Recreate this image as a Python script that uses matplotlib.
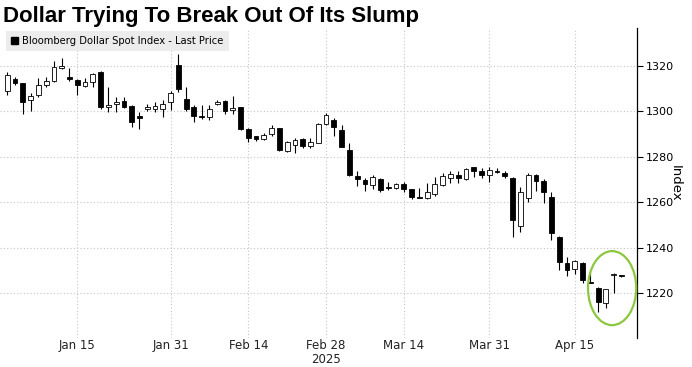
import numpy as np
import pandas as pd
import matplotlib
matplotlib.use("Agg")
import matplotlib.pyplot as plt
from matplotlib.patches import Rectangle, Ellipse, Patch

# Bloomberg Dollar Spot Index, daily candles
fechas = pd.bdate_range("2025-01-02", "2025-04-23")

apertura = [1309, 1314, 1312.3, 1305, 1307, 1311.6, 1313.3, 1319, 1315, 1313.8,
            1311.1, 1313, 1317.4, 1301.6, 1303.3, 1304.5, 1302.3, 1297.9, 1300.9, 1300.9,
            1301, 1304.2, 1320.4, 1305.4, 1301.6, 1297.8, 1297.4, 1303.1, 1304.5, 1300.4,
            1301.8, 1292.2, 1289.1, 1287.8, 1289.9, 1292.5, 1282.5, 1285.2, 1287.8, 1284.7,
            1286.2, 1294.3, 1296.2, 1291.8, 1283, 1271.7, 1269.8, 1267.6, 1270.2, 1266.8,
            1266.2, 1267.9, 1265.7, 1262.5, 1261.8, 1263.5, 1267.6, 1270.8, 1272, 1270.1,
            1275.4, 1273.5, 1272, 1273.9, 1272.7, 1270.5, 1249.6, 1261.8, 1272, 1269.5,
            1262.2, 1244.9, 1233.5, 1230.5, 1233.5, 1224.9, 1222.5, 1215.6, 1228.2, 1227.8]
maximo = [1317, 1315, 1312.5, 1308, 1314.5, 1315.2, 1322.2, 1323.3, 1319, 1314.2,
          1314.5, 1316.8, 1317.6, 1310.5, 1306.4, 1306.4, 1302.8, 1299.8, 1303.1, 1304.2,
          1305, 1308.9, 1325.3, 1310.5, 1302.5, 1302.5, 1302.8, 1305, 1305, 1306.7,
          1302, 1292.5, 1289.3, 1290.3, 1293.7, 1292.8, 1287, 1288.1, 1288.4, 1288.1,
          1294.6, 1299.4, 1296.9, 1293.7, 1285.9, 1273.5, 1270.6, 1272, 1270.6, 1269,
          1268.6, 1269, 1266, 1266.2, 1268.4, 1271.3, 1272.8, 1273.5, 1273.5, 1274.9,
          1275.6, 1274.9, 1275.6, 1274.9, 1273.9, 1271, 1266.9, 1272.8, 1272.3, 1270.1,
          1264.4, 1245.2, 1235.8, 1234.6, 1233.9, 1229.5, 1222.7, 1222, 1228.8, 1228.1]
minimo = [1307, 1311.5, 1298.7, 1300, 1306.4, 1310.5, 1313, 1318.5, 1313.3, 1306.9,
          1310.5, 1310.8, 1301, 1299.8, 1299.8, 1301.3, 1293.2, 1292.2, 1300.1, 1299.8,
          1297.6, 1300.6, 1308.6, 1300.1, 1295.2, 1296.5, 1295.9, 1302.8, 1298.8, 1298.7,
          1291.5, 1286.4, 1287, 1287.5, 1289.3, 1282.7, 1282, 1281.5, 1283.7, 1283.7,
          1285.9, 1294, 1289.1, 1284.2, 1271.6, 1267.2, 1265, 1265.7, 1264.7, 1265.4,
          1265.8, 1264.7, 1261.5, 1261.7, 1261.5, 1262.8, 1267.3, 1268.4, 1268.4, 1269.8,
          1271.3, 1270.5, 1269, 1272.7, 1270.5, 1244.9, 1247.1, 1260.3, 1265.1, 1259.6,
          1243.4, 1230.2, 1227.6, 1228.5, 1224.4, 1224.5, 1211.9, 1213.4, 1220, 1227.3]
cierre = [1316, 1312.3, 1304.2, 1306.7, 1311.3, 1313.3, 1319.2, 1320, 1314.3, 1311.6,
          1312.8, 1316.4, 1301.8, 1302.8, 1304, 1302, 1295.4, 1296.9, 1301.8, 1302.3,
          1303.1, 1307.9, 1309.7, 1300.9, 1297.9, 1297.4, 1300.9, 1303.8, 1300.1, 1301.3,
          1292.1, 1288.4, 1287.7, 1289.6, 1292.5, 1283, 1286.4, 1287.4, 1284.7, 1286.4,
          1294.4, 1298.1, 1293, 1284.4, 1272, 1270.1, 1268, 1271, 1265.4, 1266.4,
          1267.9, 1265.7, 1262.5, 1261.9, 1264.7, 1267.9, 1271.6, 1272.3, 1270.5, 1274.5,
          1273.5, 1272, 1274.2, 1273.3, 1271.7, 1252.2, 1264.7, 1272, 1269.5, 1264.7,
          1246.4, 1233.9, 1230.2, 1234.3, 1225.8, 1224.6, 1216.3, 1221.8, 1228.6, 1227.6]

etiquetas_x = ["Jan 15", "Jan 31", "Feb 14", "Feb 28\n2025", "Mar 14", "Mar 31", "Apr 15"]
fechas_ticks = ["2025-01-15", "2025-01-31", "2025-02-14", "2025-02-28",
                "2025-03-14", "2025-03-31", "2025-04-15"]
ticks_y = [1220, 1240, 1260, 1280, 1300, 1320]

plt.rcParams['font.family'] = ['DejaVu Sans']

fig = plt.figure(figsize=(6.92, 3.67), dpi=100)
ax = fig.add_axes([0.0, 1 - 338 / 367, 637 / 692, (338 - 28) / 367])

# Velas
ancho = 0.62
for i in range(len(fechas)):
    o, h, l, c = apertura[i], maximo[i], minimo[i], cierre[i]
    sube = c >= o
    ax.vlines(i, l, h, color='black', linewidth=0.8, zorder=2)
    cuerpo = max(abs(c - o), 0.25)
    ax.add_patch(Rectangle((i - ancho / 2, min(o, c)), ancho, cuerpo,
                           facecolor='white' if sube else 'black',
                           edgecolor='black', linewidth=0.6, zorder=3))

# Ejes
pos_ticks = [fechas.get_loc(pd.Timestamp(f)) for f in fechas_ticks]
ax.set_xticks(pos_ticks)
ax.set_xticklabels(etiquetas_x, fontsize=8.5, color='#222222', linespacing=1.05)
ax.set_xlim(-0.94, 81.0)
ax.set_ylim(1200.4, 1336.5)
ax.set_yticks(ticks_y)

ax.yaxis.tick_right()
ax.yaxis.set_label_position('right')
ax.tick_params(axis='y', direction='out', length=4, width=0.8, labelsize=8, pad=2, colors='black')
ax.tick_params(axis='x', length=0, pad=1)
ax.set_ylabel('Index', rotation=270, fontsize=9.5, labelpad=6)

for lado in ['top', 'left', 'bottom']:
    ax.spines[lado].set_visible(False)
ax.spines['right'].set_linewidth(0.9)

ax.grid(True, linestyle=(0, (1, 2)), color='#c4c4c4', linewidth=0.8)
ax.set_axisbelow(True)

# Leyenda
leg = ax.legend(handles=[Patch(facecolor='black', edgecolor='black')],
                labels=['Bloomberg Dollar Spot Index - Last Price'],
                loc='upper left', bbox_to_anchor=(0.002, 1.005), fontsize=7.2,
                handlelength=0.7, handleheight=0.7, handletextpad=0.4,
                borderpad=0.5, frameon=True, fancybox=False)
leg.get_frame().set_facecolor('#ececec')
leg.get_frame().set_edgecolor('none')
leg.get_frame().set_alpha(1)

# Circulo verde de resalte
ax.add_patch(Ellipse((77.8, 1222.3), 6.2, 32.5, fill=False,
                     edgecolor='#8dc63f', linewidth=1.6, zorder=4, clip_on=False))

# Titulo
fig.text(0.004, 1 - 22 / 367, 'Dollar Trying To Break Out Of Its Slump',
         fontsize=16, fontweight='bold', family='Liberation Sans', va='baseline')

fig.savefig('out.png', dpi=100)
